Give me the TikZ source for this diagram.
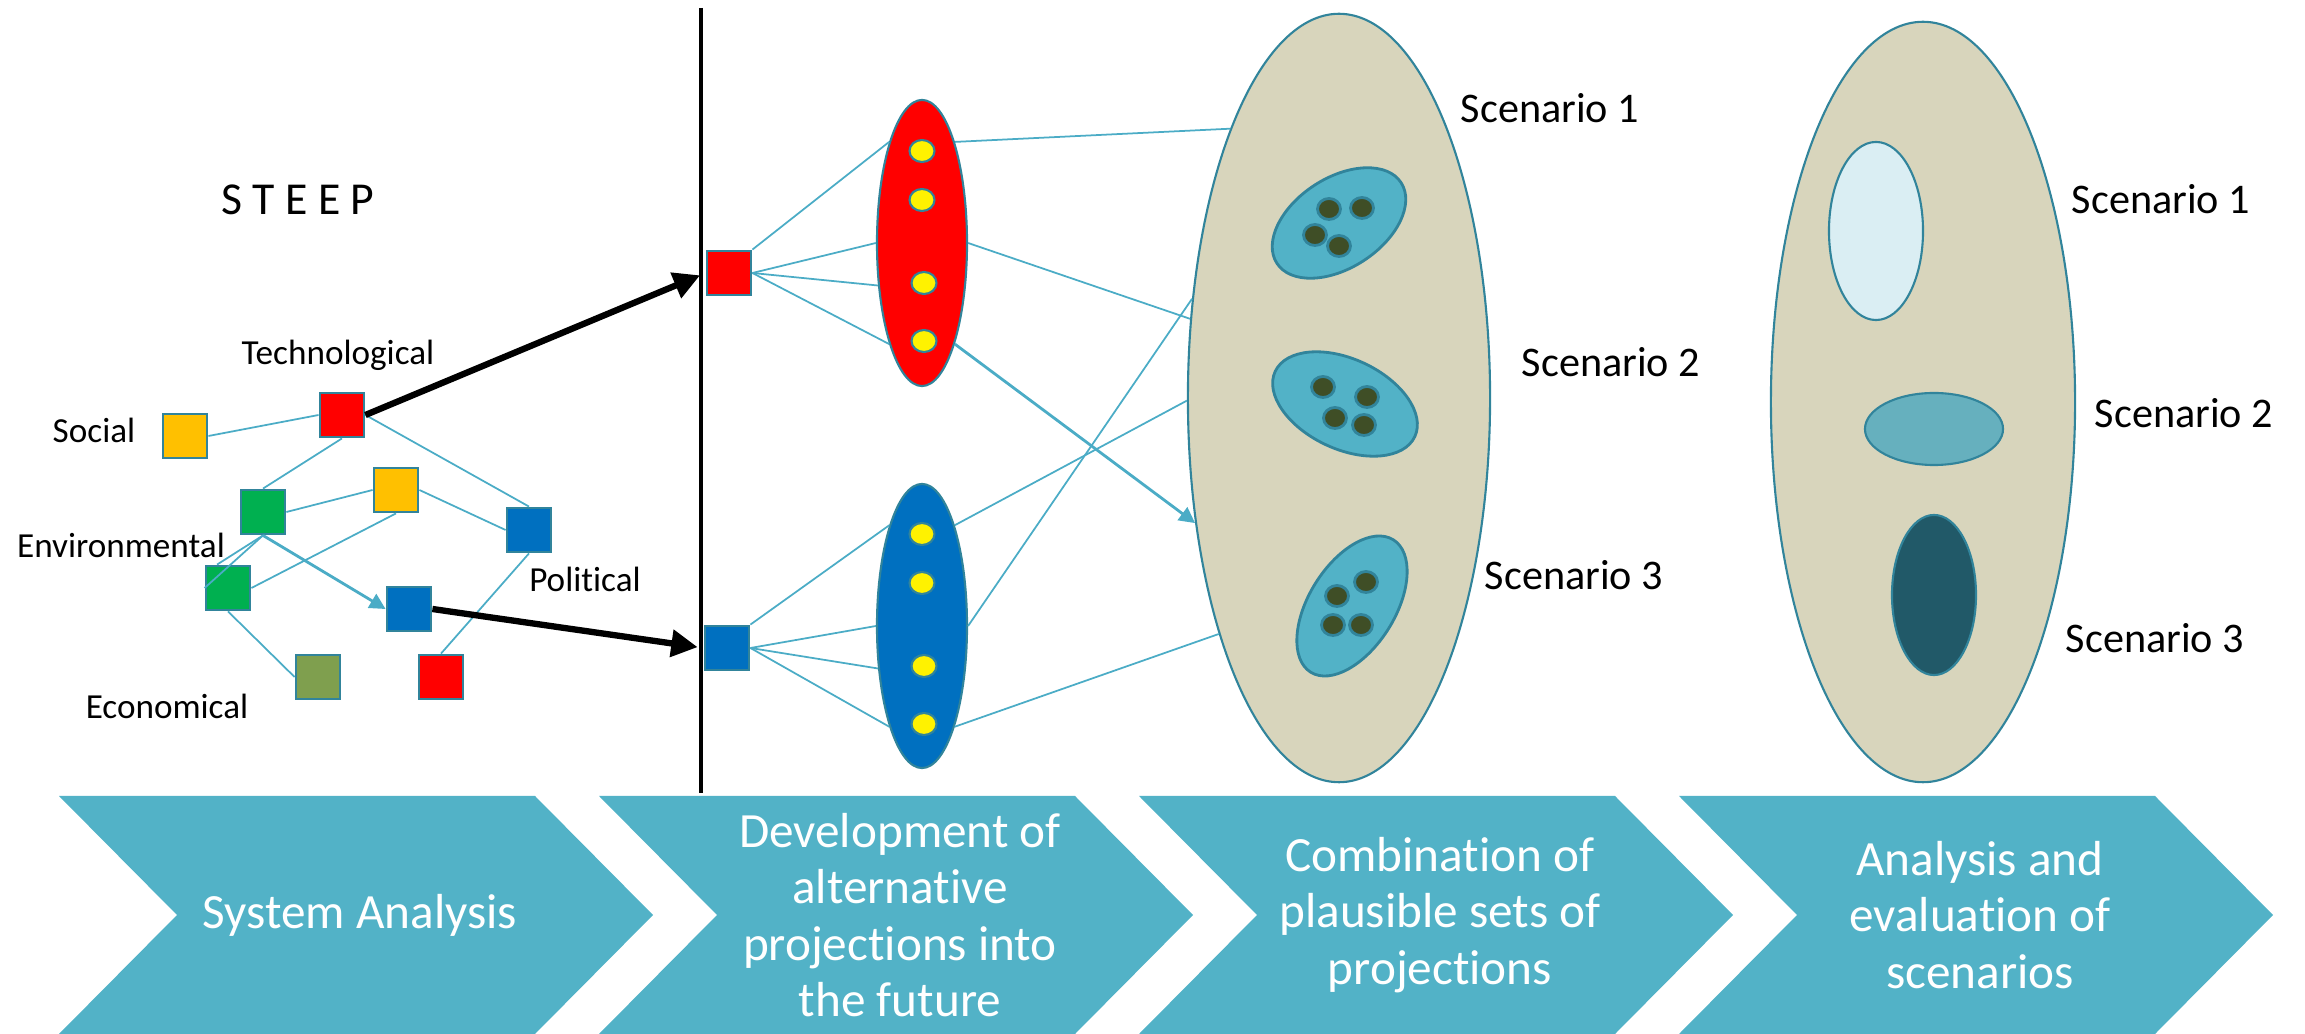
\documentclass[tikz,border=0pt]{standalone}
\usepackage{fontspec}
\setmainfont{Carlito}[RawFeature={-liga;-clig;-calt;-dlig}]
\usetikzlibrary{shapes.geometric,arrows.meta}

\definecolor{tealline}{RGB}{75,172,198}
\definecolor{tealedge}{RGB}{49,132,155}
\definecolor{stepfill}{RGB}{82,178,199}
\definecolor{sand}{RGB}{216,213,188}
\definecolor{fcred}{RGB}{255,0,0}
\definecolor{fcblue}{RGB}{0,112,192}
\definecolor{fcyellow}{RGB}{255,192,0}
\definecolor{fcgreen}{RGB}{0,176,80}
\definecolor{fcolive}{RGB}{127,159,78}
\definecolor{seedfill}{RGB}{63,78,38}
\definecolor{paleteal}{RGB}{218,238,243}
\definecolor{midteal}{RGB}{102,176,190}
\definecolor{deepteal}{RGB}{33,89,104}

\tikzset{
  factor/.style={rectangle, draw=tealedge, line width=0.8pt, minimum size=0.44cm, inner sep=0pt},
  blob/.style={ellipse, draw=tealedge, line width=0.6pt, inner sep=0pt},
  pip/.style={blob, fill=yellow, minimum width=0.25cm, minimum height=0.22cm},
  seed/.style={blob, fill=seedfill, line width=0.8pt, minimum width=0.23cm, minimum height=0.21cm},
  link/.style={draw=tealline, line width=0.5pt},
  flow/.style={draw=tealline, line width=0.8pt, -{Triangle[length=4.5pt,width=4.5pt]}},
  push/.style={line width=1.8pt, -{Triangle[length=7.5pt,width=7.5pt]}, shorten >=1.7pt},
  tag/.style={inner sep=0pt, font=\fontsize{10}{12}\selectfont},
  scen/.style={inner sep=0pt, anchor=base, font=\fontsize{12}{14}\selectfont},
  phase/.style={text=white, align=center, inner sep=0pt, font=\fontsize{14}{16}\selectfont}
}

\begin{document}
\begin{tikzpicture}[x=0.01cm, y=-0.01cm]
\useasboundingbox (0,0) rectangle (2305,1034);

% process steps along the bottom
\foreach \x/\txt [count=\i] in {59/{System Analysis},
    599/{Development of\\alternative\\projections into\\the future},
    1139/{Combination of\\plausible sets of\\projections},
    1679/{Analysis and\\evaluation of\\scenarios}}{
  \fill[stepfill] (\x,796) -- ++(476,0) -- ++(118,119) -- ++(-118,119)
    -- ++(-476,0) -- ++(118,-119) -- cycle;
  \node[phase] (phase\i) at (\x+301,915) {\txt};
}

% STEEP factors
\node[tag, anchor=base, font=\fontsize{13}{15}\selectfont] (steep) at (298,215) {S T E E P};
\node[factor, fill=fcyellow] (social) at (185,436) {};
\node[factor, fill=fcred] (tech) at (342,415) {};
\node[factor, fill=fcgreen] (env) at (263,512) {};
\node[factor, fill=fcyellow] (social2) at (396,490) {};
\node[factor, fill=fcblue] (pol) at (529,530) {};
\node[factor, fill=fcgreen] (env2) at (228,588) {};
\node[factor, fill=fcblue] (pol2) at (409,609) {};
\node[factor, fill=fcolive] (econ) at (318,677) {};
\node[factor, fill=fcred] (tech2) at (441,677) {};

\node[tag, anchor=base] (lsocial) at (94,443) {Social};
\node[tag, anchor=base] (ltech) at (338,365) {Technological};
\node[tag, anchor=base] (lenv) at (121,558) {Environmental};
\node[tag, anchor=base] (lpol) at (585,592) {Political};
\node[tag, anchor=base] (lecon) at (167,719) {Economical};

\draw[link] (social.east) -- (tech.west);
\draw[link] (tech.south) -- (env.north);
\draw[link] (tech.east) -- (pol.north);
\draw[link] (env.east) -- (social2.west);
\draw[link] (social2.east) -- (pol.west);
\draw[link] (social2.south) -- (env2.east);
\draw[link] (env.south) -- (env2.115);
\draw[link] (env.south) -- (env2.west);
\draw[flow] (env.south) -- (pol2.west);
\draw[link] (env2.south) -- (econ.west);
\draw[link] (pol.south) -- (tech2.north);

% divider
\draw[line width=1.3pt] (701,8) -- (701,793);

% projections
\node[factor, fill=fcred] (techproj) at (729,273) {};
\node[factor, fill=fcblue] (polproj) at (727,648) {};
\node[blob, fill=fcred, minimum width=0.9cm, minimum height=2.86cm] (redset) at (922,243) {};
\node[blob, fill=fcblue, minimum width=0.9cm, minimum height=2.84cm] (blueset) at (922,626) {};
\foreach \set in {redset, blueset}
  \foreach \dx/\dy [count=\k] in {0/-92, 0/-43, 2/40, 2/98}
    \node[pip] (\set-\k) at ([shift={(\dx,\dy)}]\set.center) {};

\draw[push] (tech.east) -- (techproj.west);
\draw[push] (pol2.east) -- (polproj.west);

\draw[link] (techproj.north east) -- (redset.108);
\draw[link] (techproj.east) -- (redset.180);
\draw[link] (techproj.east) -- (redset.224);
\draw[link] (techproj.east) -- (redset.252);
\draw[link] (polproj.north east) -- (blueset.108);
\draw[link] (polproj.east) -- (blueset.180);
\draw[link] (polproj.east) -- (blueset.224);
\draw[link] (polproj.east) -- (blueset.252);

% combined sets
\node[blob, fill=sand, minimum width=3.02cm, minimum height=7.68cm] (combo) at (1339,398) {};
\node[blob, fill=stepfill, line width=0.8pt, minimum width=1.48cm, minimum height=0.9cm, rotate=33] (set1) at (1339,223) {};
\node[blob, fill=stepfill, line width=0.8pt, minimum width=1.54cm, minimum height=0.9cm, rotate=-25] (set2) at (1345,404) {};
\node[blob, fill=stepfill, line width=0.8pt, minimum width=1.56cm, minimum height=0.86cm, rotate=58] (set3) at (1352,606) {};
\foreach \p [count=\k] in {(1329,209),(1362,208),(1315,235),(1339,246),
    (1323,387),(1367,397),(1335,418),(1364,425),
    (1366,582),(1337,596),(1333,625),(1361,625)}
  \node[seed] (seed\k) at \p {};

\draw[link] (redset.72) -- (combo.112);
\draw[link] (redset.east) -- (combo.152);
\draw[flow] (redset.288) -- (combo.221);
\draw[link] (blueset.72) -- (combo.181);
\draw[link] (blueset.east) -- (combo.146);
\draw[link] (blueset.288) -- (combo.243);

\node[scen] (scen1) at (1550,123) {Scenario 1};
\node[scen] (scen2) at (1611,377) {Scenario 2};
\node[scen] (scen3) at (1574,590) {Scenario 3};

% evaluated scenarios
\node[blob, fill=sand, minimum width=3.04cm, minimum height=7.6cm] (review) at (1923,402) {};
\node[blob, fill=paleteal, minimum width=0.94cm, minimum height=1.78cm] (pick1) at (1876,231) {};
\node[blob, fill=midteal, minimum width=1.38cm, minimum height=0.72cm] (pick2) at (1934,429) {};
\node[blob, fill=deepteal, minimum width=0.84cm, minimum height=1.6cm] (pick3) at (1934,595) {};

\node[scen] (rscen1) at (2161,214) {Scenario 1};
\node[scen] (rscen2) at (2184,428) {Scenario 2};
\node[scen] (rscen3) at (2155,653) {Scenario 3};
\end{tikzpicture}
\end{document}
